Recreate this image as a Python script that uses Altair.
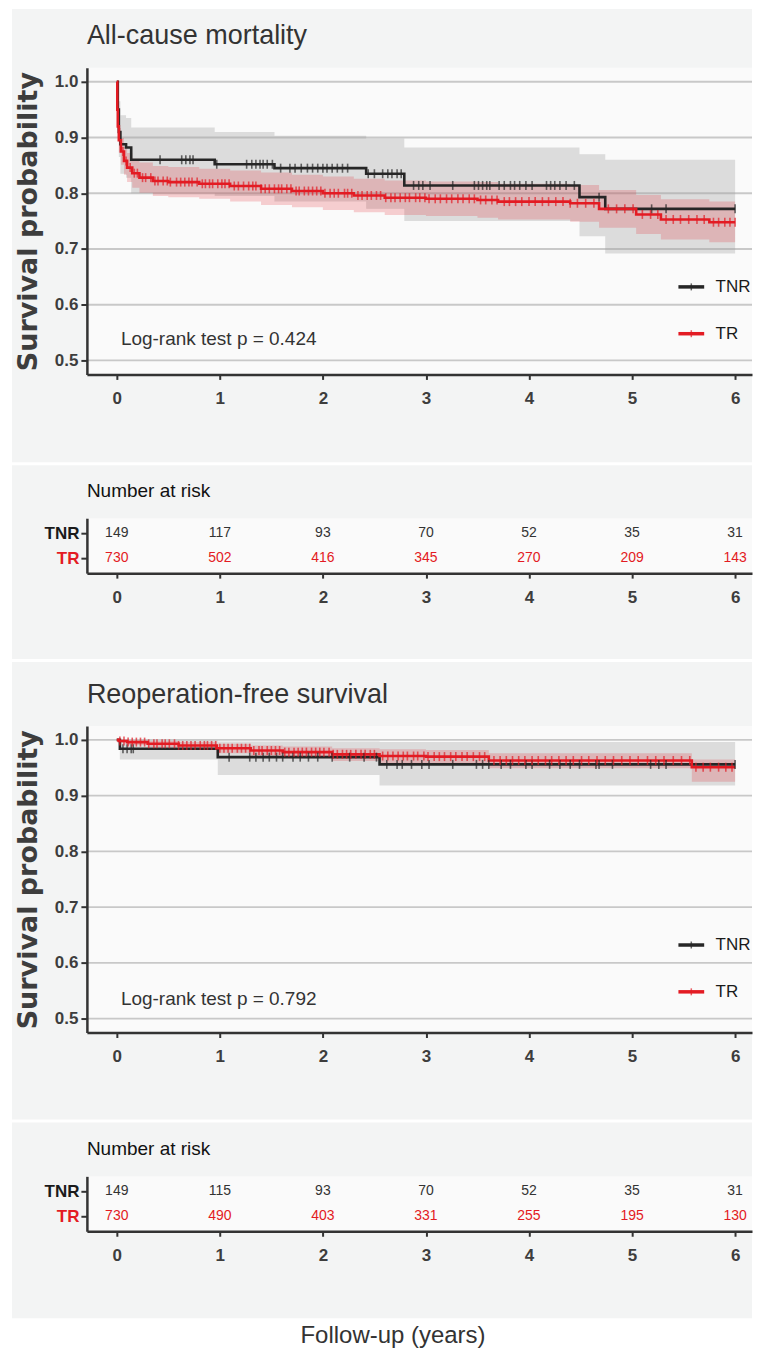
import altair as alt
import pandas as pd
import numpy as np

# ---------------- data ----------------
GROUPS = ["TNR", "TR"]
YEARS = [0, 1, 2, 3, 4, 5, 6]
Y_TICKS = [0.5, 0.6, 0.7, 0.8, 0.9, 1.0]

# All-cause mortality
ac_tnr_time  = [0, 0.01, 0.02, 0.035, 0.09, 0.14, 0.95, 1.53, 2.42, 2.79, 4.49, 4.74, 6.0]
ac_tnr_surv  = [1.0, 0.95, 0.91, 0.888, 0.882, 0.86, 0.852, 0.845, 0.835, 0.814, 0.793, 0.772, 0.772]
ac_tnr_upper = [1.0, 0.985, 0.965, 0.94, 0.935, 0.918, 0.91, 0.903, 0.898, 0.882, 0.87, 0.86, 0.86]
ac_tnr_lower = [1.0, 0.915, 0.865, 0.835, 0.828, 0.80, 0.795, 0.785, 0.772, 0.75, 0.723, 0.692, 0.692]
ac_tnr_cens = [0.42, 0.63, 0.67, 0.71, 0.74, 0.97, 1.26, 1.31, 1.35, 1.39, 1.42, 1.46, 1.51, 1.59,
               1.68, 1.73, 1.79, 1.85, 1.9, 1.95, 2.0, 2.04, 2.09, 2.14, 2.19, 2.24, 2.44, 2.5,
               2.58, 2.63, 2.67, 2.72, 2.76, 2.88, 2.93, 2.97, 3.04, 3.26, 3.47, 3.51, 3.55, 3.59,
               3.62, 3.71, 3.76, 3.82, 3.86, 3.91, 3.97, 4.03, 4.17, 4.21, 4.25, 4.3, 4.36, 4.44,
               4.68, 5.19, 5.33, 6.0]

ac_tr_time  = [0, 0.005, 0.01, 0.02, 0.04, 0.07, 0.1, 0.15, 0.22, 0.35, 0.5, 0.8, 1.1, 1.4,
               1.7, 2.0, 2.3, 2.6, 3.0, 3.5, 3.7, 4.4, 4.68, 5.04, 5.28, 5.75, 6.0]
ac_tr_surv  = [1.0, 0.95, 0.92, 0.895, 0.875, 0.858, 0.846, 0.836, 0.828, 0.822, 0.82, 0.817,
               0.813, 0.808, 0.804, 0.8, 0.796, 0.792, 0.79, 0.788, 0.785, 0.782, 0.772, 0.762,
               0.753, 0.748, 0.748]
ac_tr_upper = [1.0, 0.966, 0.94, 0.917, 0.899, 0.883, 0.872, 0.862, 0.855, 0.849, 0.847, 0.844,
               0.841, 0.837, 0.833, 0.83, 0.826, 0.823, 0.821, 0.82, 0.817, 0.815, 0.806, 0.797,
               0.789, 0.785, 0.785]
ac_tr_lower = [1.0, 0.934, 0.9, 0.873, 0.851, 0.833, 0.82, 0.81, 0.801, 0.795, 0.793, 0.79,
               0.785, 0.779, 0.775, 0.77, 0.766, 0.761, 0.759, 0.756, 0.753, 0.749, 0.738, 0.727,
               0.717, 0.712, 0.712]
ac_tr_cens = [0.06, 0.09, 0.13, 0.17, 0.2, 0.25, 0.28, 0.33, 0.37, 0.4, 0.45, 0.49, 0.52, 0.58,
              0.62, 0.66, 0.7, 0.73, 0.78, 0.83, 0.86, 0.9, 0.93, 0.98, 1.02, 1.05, 1.09, 1.14,
              1.18, 1.23, 1.28, 1.32, 1.35, 1.4, 1.44, 1.48, 1.53, 1.57, 1.6, 1.65, 1.69, 1.74,
              1.77, 1.82, 1.86, 1.9, 1.94, 1.98, 2.02, 2.07, 2.11, 2.15, 2.21, 2.24, 2.28, 2.34,
              2.38, 2.43, 2.47, 2.52, 2.56, 2.61, 2.66, 2.7, 2.75, 2.8, 2.84, 2.9, 2.94, 2.99,
              3.03, 3.09, 3.14, 3.2, 3.25, 3.31, 3.36, 3.42, 3.47, 3.53, 3.58, 3.64, 3.69, 3.76,
              3.81, 3.87, 3.93, 4.0, 4.06, 4.13, 4.19, 4.26, 4.33, 4.4, 4.47, 4.55, 4.63, 4.77,
              4.85, 4.93, 5.01, 5.1, 5.18, 5.25, 5.33, 5.4, 5.47, 5.55, 5.63, 5.7, 5.79, 5.84,
              5.9, 5.95, 6.0]
ac_risk_tnr = [149, 117, 93, 70, 52, 35, 31]
ac_risk_tr = [730, 502, 416, 345, 270, 209, 143]

# Reoperation-free survival
ro_tnr_time  = [0, 0.03, 0.98, 2.55, 6.0]
ro_tnr_surv  = [1.0, 0.984, 0.969, 0.956, 0.956]
ro_tnr_upper = [1.0, 0.999, 0.997, 0.996, 0.996]
ro_tnr_lower = [1.0, 0.965, 0.937, 0.918, 0.918]
ro_tnr_cens = [0.06, 0.1, 0.14, 0.16, 1.09, 1.29, 1.35, 1.42, 1.48, 1.55, 1.61, 1.71, 1.78,
               1.86, 1.95, 2.09, 2.26, 2.4, 2.52, 2.62, 2.72, 2.77, 2.86, 2.96, 3.03, 3.26,
               3.49, 3.55, 3.61, 3.73, 3.82, 3.97, 4.03, 4.2, 4.3, 4.4, 4.49, 4.65, 4.68,
               4.81, 5.18, 5.26, 5.33, 6.0]

ro_tr_time  = [0, 0.02, 0.1, 0.3, 0.6, 0.97, 1.3, 1.61, 2.09, 2.55, 3.0, 3.61, 5.58, 6.0]
ro_tr_surv  = [1.0, 0.998, 0.996, 0.993, 0.99, 0.985, 0.981, 0.978, 0.974, 0.971, 0.97,
               0.963, 0.951, 0.951]
ro_tr_upper = [1.0, 1.0, 0.999, 0.998, 0.996, 0.993, 0.99, 0.988, 0.985, 0.983, 0.982,
               0.976, 0.965, 0.965]
ro_tr_lower = [1.0, 0.995, 0.991, 0.987, 0.983, 0.976, 0.971, 0.967, 0.962, 0.958, 0.957,
               0.949, 0.925, 0.925]
ro_tr_cens = [0.03, 0.07, 0.11, 0.15, 0.19, 0.23, 0.27, 0.31, 0.36, 0.39, 0.44, 0.47, 0.51,
              0.56, 0.6, 0.64, 0.68, 0.72, 0.76, 0.81, 0.85, 0.88, 0.92, 0.96, 1.0, 1.04,
              1.08, 1.12, 1.17, 1.21, 1.25, 1.29, 1.33, 1.38, 1.41, 1.46, 1.5, 1.54, 1.58,
              1.63, 1.67, 1.72, 1.76, 1.8, 1.84, 1.89, 1.93, 1.97, 2.01, 2.06, 2.1, 2.14,
              2.19, 2.23, 2.27, 2.32, 2.37, 2.41, 2.46, 2.5, 2.58, 2.63, 2.68, 2.73, 2.78,
              2.82, 2.88, 2.92, 2.98, 3.02, 3.08, 3.13, 3.18, 3.24, 3.29, 3.35, 3.4, 3.46,
              3.52, 3.57, 3.66, 3.72, 3.78, 3.84, 3.9, 3.96, 4.03, 4.09, 4.16, 4.22, 4.29,
              4.36, 4.43, 4.51, 4.58, 4.66, 4.74, 4.82, 4.9, 4.98, 5.06, 5.15, 5.23, 5.31,
              5.4, 5.48, 5.56, 5.62, 5.69, 5.76, 5.84, 5.91, 5.97]
ro_risk_tnr = [149, 115, 93, 70, 52, 35, 31]
ro_risk_tr = [730, 490, 403, 331, 255, 195, 130]

# ---------------- styling ----------------
FN = "Liberation Sans, Arial, sans-serif"
FT = "DejaVu Sans, Verdana, sans-serif"
BLACK = "#262626"
RED = "#e31b23"
PANEL_BG = "#f3f4f4"
PLOT_BG = "#fafafa"
GRID = "#c8c8c8"
AXC = "#333333"
TXT = "#333333"
AXT = "#3d3d3d"

W = 666
H_KM = 307
H_RISK = 55
XSCALE = alt.Scale(domain=[-0.29, 6.164], nice=False, zero=False)
YSCALE = alt.Scale(domain=[0.475, 1.025], nice=False, zero=False)
COLOR_SCALE = alt.Scale(domain=GROUPS, range=[BLACK, RED])
ONE = pd.DataFrame({"d": [0]})
# legend placement (in the plot's own time / survival units)
LEG_X0, LEG_X1, LEG_XT = 5.45, 5.70, 5.81
LEG_Y = [0.632, 0.548]


def x_axis(title=None, **kw):
    return alt.Axis(values=YEARS, format="d", grid=False, labelFlush=False,
                    domainColor=AXC, domainWidth=2.5, tickColor=AXC, tickWidth=2,
                    tickSize=5, labelFont=FN, labelFontSize=17, labelFontWeight="bold",
                    labelColor=AXT, labelPadding=11, title=title, zindex=1, **kw)


Y_AXIS = alt.Axis(values=Y_TICKS, format=".1f", grid=False, domainColor=AXC, domainWidth=2.5,
                  tickColor=AXC, tickWidth=2, tickSize=6, labelFont=FN, labelFontSize=17,
                  labelFontWeight="bold", labelColor=AXT, labelPadding=3,
                  title="Survival probability", titleFont=FT, titleFontSize=27,
                  titleFontWeight="bold", titleColor=AXT, titleX=-50, titleY=H_KM / 2,
                  titleAngle=270, titleAlign="center", titleBaseline="alphabetic", zindex=1)


def curve_df(group, t, s, lo, hi):
    return pd.DataFrame({"group": group, "time": t, "surv": s, "lower": lo, "upper": hi})


def cens_df(group, times, t, s):
    idx = np.searchsorted(np.array(t), np.array(times), side="right") - 1
    return pd.DataFrame({"group": group, "time": times, "surv": np.array(s)[idx]})


def panel_rects(top, bottom, h):
    bg = alt.Chart(ONE).mark_rect(color=PANEL_BG).encode(
        x=alt.value(-75), x2=alt.value(W), y=alt.value(top), y2=alt.value(bottom))
    pbg = alt.Chart(ONE).mark_rect(color=PLOT_BG).encode(
        x=alt.value(0), x2=alt.value(W), y=alt.value(0), y2=alt.value(h))
    return bg, pbg


def km_panel(title, curves, cens, pval, top, bottom, title_y):
    X = alt.X("time:Q", scale=XSCALE, axis=x_axis())
    Y = alt.Y("surv:Q", scale=YSCALE, axis=Y_AXIS)
    C = alt.Color("group:N", scale=COLOR_SCALE, legend=None)
    bg, pbg = panel_rects(top, bottom, H_KM)
    grid = alt.Chart(pd.DataFrame({"surv": Y_TICKS})).mark_rule(
        color=GRID, strokeWidth=1.8).encode(y=Y)
    band = alt.Chart(curves).mark_area(interpolate="step-after").encode(
        x=X,
        y=alt.Y("upper:Q", scale=YSCALE, axis=Y_AXIS),
        y2="lower:Q",
        fill=alt.Fill("group:N", scale=alt.Scale(domain=GROUPS, range=["#a3a3a3", RED]),
                      legend=None),
        opacity=alt.Opacity("group:N", scale=alt.Scale(domain=GROUPS, range=[0.35, 0.2]),
                            legend=None),
    )
    line = alt.Chart(curves).mark_line(interpolate="step-after", strokeWidth=2.6).encode(
        x=X, y=Y, color=C)
    ticks = alt.Chart(cens).mark_tick(orient="vertical", size=9, thickness=1.6).encode(
        x=X, y=Y, color=C)
    # legend (key lines with a censor tick, and labels)
    leg = pd.DataFrame({"group": GROUPS, "surv": LEG_Y, "time": [LEG_X0] * 2,
                        "time2": [LEG_X1] * 2, "mid": [(LEG_X0 + LEG_X1) / 2] * 2,
                        "tx": [LEG_XT] * 2})
    leg_line = alt.Chart(leg).mark_rule(strokeWidth=3.5).encode(
        x=X, x2="time2:Q", y=Y, color=C)
    leg_tick = alt.Chart(leg).mark_tick(orient="vertical", size=7, thickness=1.5).encode(
        x=alt.X("mid:Q", scale=XSCALE, axis=x_axis()), y=Y, color=C)
    leg_txt = alt.Chart(leg).mark_text(align="left", baseline="middle", font=FN, fontSize=17,
                                       color="#1a1a1a").encode(
        x=alt.X("tx:Q", scale=XSCALE, axis=x_axis()), y=Y, text="group:N")
    ptxt = alt.Chart(pd.DataFrame({"time": [0.04], "surv": [pval[1]], "label": [pval[0]]})).mark_text(
        align="left", baseline="middle", font=FN, fontSize=19, color=TXT).encode(
        x=X, y=Y, text="label:N")
    ttl = alt.Chart(ONE).mark_text(align="left", baseline="alphabetic", font=FN, fontSize=27,
                                   color=TXT, text=title).encode(
        x=alt.value(0), y=alt.value(title_y))
    return alt.layer(bg, pbg, grid, band, line, ticks, leg_line, leg_tick, leg_txt, ptxt,
                     ttl).properties(width=W, height=H_KM)


def risk_panel(tnr, tr, top, bottom, x_title=None):
    df = pd.DataFrame({"time": YEARS + YEARS, "group": ["TNR"] * 7 + ["TR"] * 7,
                       "n": [str(v) for v in tnr + tr]})
    if x_title:
        xa = x_axis(title=x_title, titleFont=FN, titleFontSize=24, titleFontWeight="normal",
                    titleColor=TXT, titleX=306, titleY=104, titleAlign="center",
                    titleBaseline="middle")
    else:
        xa = x_axis()
    X = alt.X("time:Q", scale=XSCALE, axis=xa)
    Y = alt.Y("group:N", scale=alt.Scale(type="point", domain=GROUPS, padding=0.6),
              axis=alt.Axis(title=None, domainColor=AXC, domainWidth=2.5, tickColor=AXC,
                            tickWidth=2, tickSize=6, labelFont=FN, labelFontSize=17,
                            labelFontWeight="bold", labelPadding=2,
                            labelColor={"condition": {"test": "datum.label == 'TR'",
                                                      "value": RED},
                                        "value": "#1a1a1a"},
                            zindex=1))
    bg, pbg = panel_rects(top, bottom, H_RISK)
    txt = alt.Chart(df).mark_text(font=FN, fontSize=14, baseline="middle").encode(
        x=X, y=Y, text="n:N",
        color=alt.Color("group:N", scale=alt.Scale(domain=GROUPS, range=["#333333", RED]),
                        legend=None))
    head = alt.Chart(ONE).mark_text(align="left", baseline="alphabetic", font=FN, fontSize=19,
                                    color="#111111", text="Number at risk").encode(
        x=alt.value(0), y=alt.value(-21))
    return alt.layer(bg, pbg, txt, head).properties(width=W, height=H_RISK)


ac_curves = pd.concat([curve_df("TNR", ac_tnr_time, ac_tnr_surv, ac_tnr_lower, ac_tnr_upper),
                       curve_df("TR", ac_tr_time, ac_tr_surv, ac_tr_lower, ac_tr_upper)])
ac_cens = pd.concat([cens_df("TNR", ac_tnr_cens, ac_tnr_time, ac_tnr_surv),
                     cens_df("TR", ac_tr_cens, ac_tr_time, ac_tr_surv)])
ro_curves = pd.concat([curve_df("TNR", ro_tnr_time, ro_tnr_surv, ro_tnr_lower, ro_tnr_upper),
                       curve_df("TR", ro_tr_time, ro_tr_surv, ro_tr_lower, ro_tr_upper)])
ro_cens = pd.concat([cens_df("TNR", ro_tnr_cens, ro_tnr_time, ro_tnr_surv),
                     cens_df("TR", ro_tr_cens, ro_tr_time, ro_tr_surv)])

p1 = km_panel("All-cause mortality", ac_curves, ac_cens, ("Log-rank test p = 0.424", 0.539),
              -59, 395, -24)
p2 = risk_panel(ac_risk_tnr, ac_risk_tr, -53, 141)
p3 = km_panel("Reoperation-free survival", ro_curves, ro_cens,
              ("Log-rank test p = 0.792", 0.5355), -64, 394, -23.3)
p4 = risk_panel(ro_risk_tnr, ro_risk_tr, -54, 142, x_title="Follow-up (years)")

chart = alt.vconcat(p1, p2, p3, p4, spacing=3).resolve_scale(
    color="independent", fill="independent", opacity="independent"
).properties(
    padding={"left": 4, "top": 0, "right": 0, "bottom": 0}, background="white"
).configure_view(stroke=None)

chart.save("out.html", embed_options={"renderer": "svg", "actions": False})
